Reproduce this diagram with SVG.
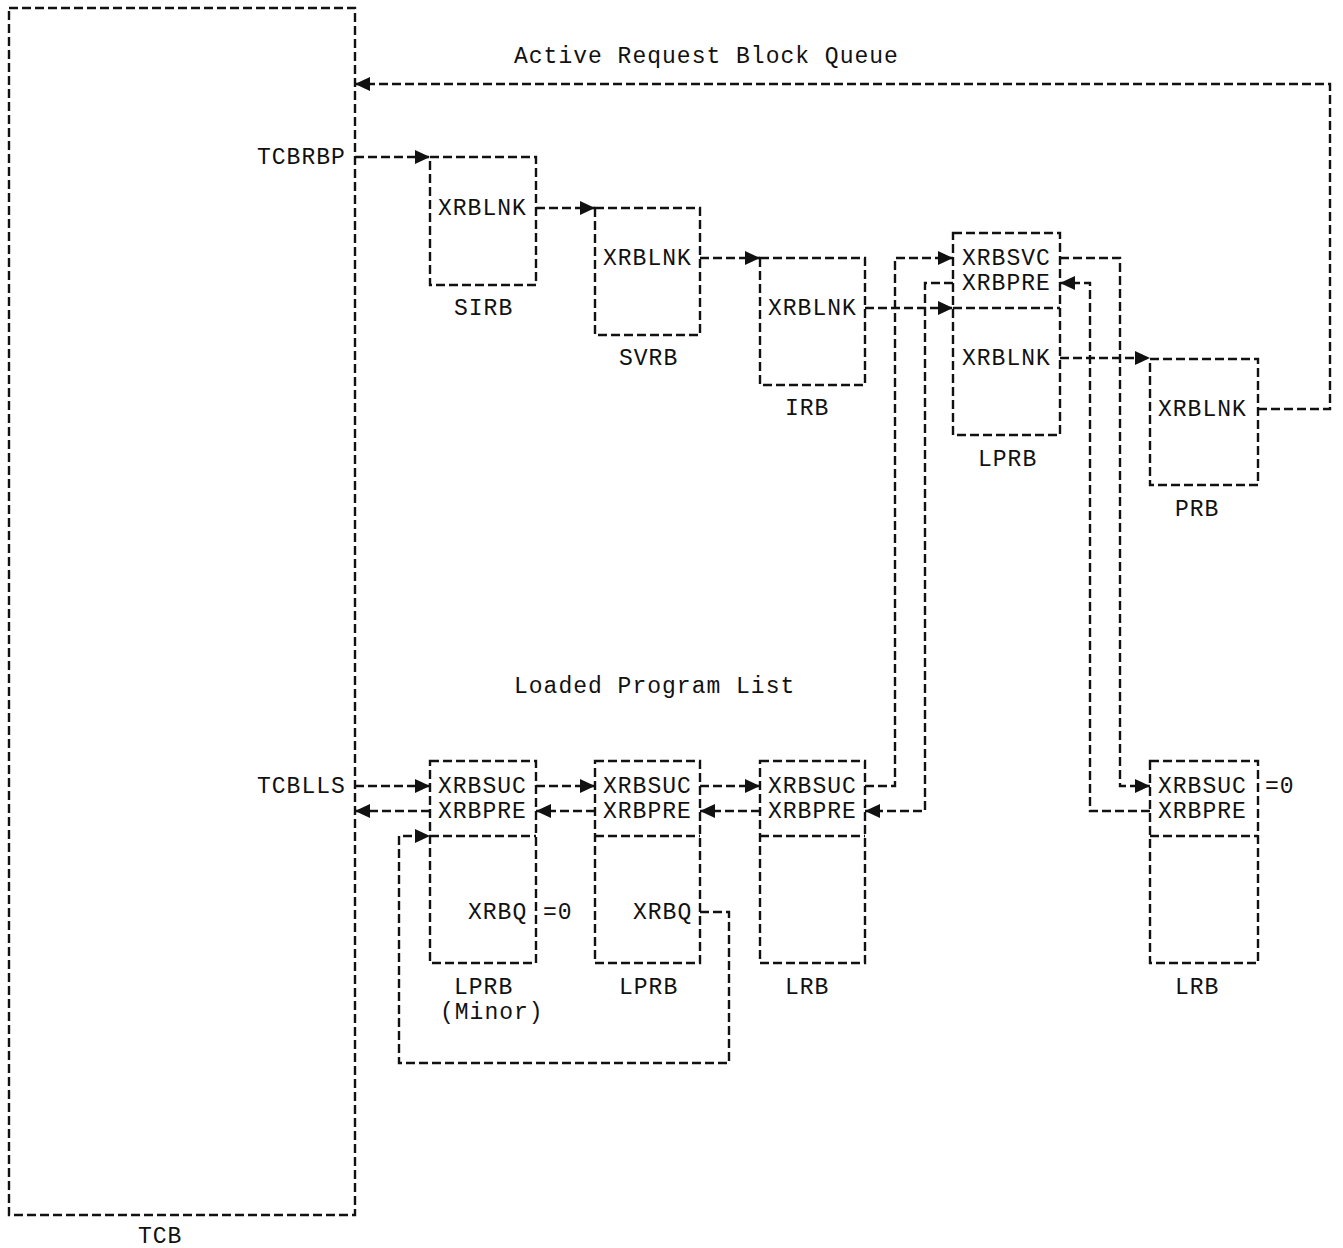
<svg xmlns="http://www.w3.org/2000/svg" width="1343" height="1248" viewBox="0 0 1343 1248">
<style>
.box{fill:none;stroke:#111;stroke-width:2.4;stroke-dasharray:9 4}
.ln{fill:none;stroke:#111;stroke-width:2.4;stroke-dasharray:9 4}
.ar{marker-end:url(#ah)}
text{font-family:"Liberation Mono","DejaVu Sans Mono",monospace;font-size:23px;letter-spacing:1px;fill:#111}
</style>
<defs>
<marker id="ah" markerUnits="userSpaceOnUse" markerWidth="15" markerHeight="14" refX="15" refY="7" orient="auto">
<path d="M0,0 L15,7 L0,14 z" fill="#111"/>
</marker>
</defs>
<rect width="1343" height="1248" fill="#fff"/>
<g id="tcb">
<rect class="box" x="9" y="8" width="346" height="1207"/>
<text x="138" y="1243">TCB</text>
<text x="257" y="164">TCBRBP</text>
<text x="257" y="793">TCBLLS</text>
</g>
<text x="514" y="63">Active Request Block Queue</text>
<text x="514" y="693">Loaded Program List</text>
<g id="sirb">
<rect class="box" x="430" y="157" width="106" height="128"/>
<text x="438" y="215">XRBLNK</text>
<text x="454" y="315">SIRB</text>
</g>
<g id="svrb">
<rect class="box" x="595" y="208" width="105" height="127"/>
<text x="603" y="265">XRBLNK</text>
<text x="619" y="365">SVRB</text>
</g>
<g id="irb">
<rect class="box" x="760" y="258" width="105" height="127"/>
<text x="768" y="315">XRBLNK</text>
<text x="785" y="415">IRB</text>
</g>
<g id="lprb-top">
<rect class="box" x="953" y="233" width="107" height="202"/>
<path class="ln" d="M953 308 H1060"/>
<text x="962" y="265">XRBSVC</text>
<text x="962" y="290">XRBPRE</text>
<text x="962" y="365">XRBLNK</text>
<text x="978" y="466">LPRB</text>
</g>
<g id="prb">
<rect class="box" x="1150" y="359" width="108" height="126"/>
<text x="1158" y="416">XRBLNK</text>
<text x="1175" y="516">PRB</text>
</g>
<g id="lprb-minor">
<rect class="box" x="430" y="761" width="106" height="202"/>
<path class="ln" d="M430 836 H536"/>
<text x="438" y="793">XRBSUC</text>
<text x="438" y="818">XRBPRE</text>
<text x="468" y="919">XRBQ</text>
<text x="543" y="919">=0</text>
<text x="454" y="994">LPRB</text>
<text x="440" y="1019">(Minor)</text>
</g>
<g id="lprb-mid">
<rect class="box" x="595" y="761" width="105" height="202"/>
<path class="ln" d="M595 836 H700"/>
<text x="603" y="793">XRBSUC</text>
<text x="603" y="818">XRBPRE</text>
<text x="633" y="919">XRBQ</text>
<text x="619" y="994">LPRB</text>
</g>
<g id="lrb-mid">
<rect class="box" x="760" y="761" width="105" height="202"/>
<path class="ln" d="M760 836 H865"/>
<text x="768" y="793">XRBSUC</text>
<text x="768" y="818">XRBPRE</text>
<text x="785" y="994">LRB</text>
</g>
<g id="lrb-right">
<rect class="box" x="1150" y="761" width="108" height="202"/>
<path class="ln" d="M1150 836 H1258"/>
<text x="1158" y="793">XRBSUC</text>
<text x="1158" y="818">XRBPRE</text>
<text x="1265" y="793">=0</text>
<text x="1175" y="994">LRB</text>
</g>
<g id="connectors">
<path class="ln ar" d="M1258 409 H1330 V84 H355"/>
<path class="ln ar" d="M355 157 H430"/>
<path class="ln ar" d="M536 208 H595"/>
<path class="ln ar" d="M700 258 H760"/>
<path class="ln ar" d="M865 308 H953"/>
<path class="ln ar" d="M865 786 H895 V258 H953"/>
<path class="ln ar" d="M953 283 H925 V811 H865"/>
<path class="ln ar" d="M1060 258 H1120 V786 H1150"/>
<path class="ln ar" d="M1150 811 H1090 V283 H1060"/>
<path class="ln ar" d="M1060 358 H1150"/>
<path class="ln ar" d="M355 786 H430"/>
<path class="ln ar" d="M430 811 H355"/>
<path class="ln ar" d="M536 786 H595"/>
<path class="ln ar" d="M700 786 H760"/>
<path class="ln ar" d="M595 811 H536"/>
<path class="ln ar" d="M760 811 H700"/>
<path class="ln ar" d="M700 912 H729 V1063 H399 V836 H430"/>
</g>
</svg>
